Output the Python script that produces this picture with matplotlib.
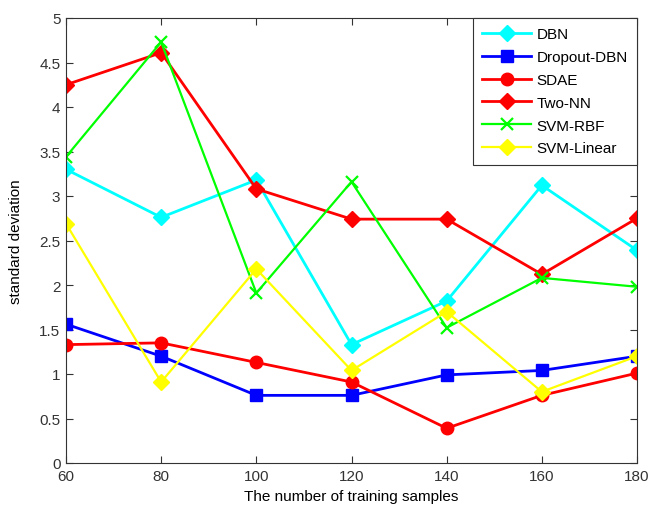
import matplotlib
matplotlib.use("Agg")
import matplotlib.pyplot as plt
import numpy as np

plt.rcParams['font.family'] = ['Liberation Sans', 'DejaVu Sans']
plt.rcParams['font.size'] = 11

# training sample counts
samples = [60, 80, 100, 120, 140, 160, 180]

# standard deviation per method
dbn = [3.30, 2.76, 3.18, 1.33, 1.82, 3.12, 2.39]
dropout_dbn = [1.56, 1.20, 0.76, 0.76, 0.99, 1.04, 1.20]
sdae = [1.33, 1.35, 1.13, 0.91, 0.39, 0.76, 1.01]
two_nn = [4.25, 4.61, 3.08, 2.74, 2.74, 2.12, 2.75]
svm_rbf = [3.44, 4.73, 1.91, 3.16, 1.52, 2.08, 1.98]
svm_linear = [2.69, 0.91, 2.18, 1.04, 1.70, 0.80, 1.20]

fig = plt.figure(figsize=(6.5, 5.06), dpi=100)
ax = fig.add_axes([66 / 650, 1 - 464 / 506, (637 - 66) / 650, (464 - 19) / 506])

ax.plot(samples, dbn, color='#00ffff', lw=2, marker='D', ms=8, label='DBN')
ax.plot(samples, dropout_dbn, color='#0000ff', lw=2, marker='s', ms=8, label='Dropout-DBN')
ax.plot(samples, sdae, color='#ff0000', lw=2, marker='o', ms=9, label='SDAE')
ax.plot(samples, two_nn, color='#ff0000', lw=2, marker='D', ms=8, label='Two-NN')
ax.plot(samples, svm_rbf, color='#00ff00', lw=1.6, marker='x', ms=8, mew=1.6, label='SVM-RBF')
ax.plot(samples, svm_linear, color='#ffff00', lw=1.6, marker='D', ms=8, label='SVM-Linear')

ax.set_xlim(60, 180)
ax.set_ylim(0, 5)
ax.set_xticks(samples)
yt = np.arange(0, 5.01, 0.5)
ax.set_yticks(yt)
ax.set_yticklabels(['%g' % v for v in yt])
ax.tick_params(direction='in', top=True, right=True, length=5, colors='#333333', pad=4)
for s in ax.spines.values():
    s.set_color('#333333')

ax.set_xlabel('The number of training samples', labelpad=5)
ax.set_ylabel('standard deviation', labelpad=12)

leg = ax.legend(loc='upper right', fancybox=False, framealpha=1, edgecolor='#333333',
                handlelength=3.2, borderaxespad=0, labelspacing=0.58, borderpad=0.6,
                handletextpad=0.35)
leg.get_frame().set_linewidth(0.8)

fig.savefig('out.png', dpi=100)
